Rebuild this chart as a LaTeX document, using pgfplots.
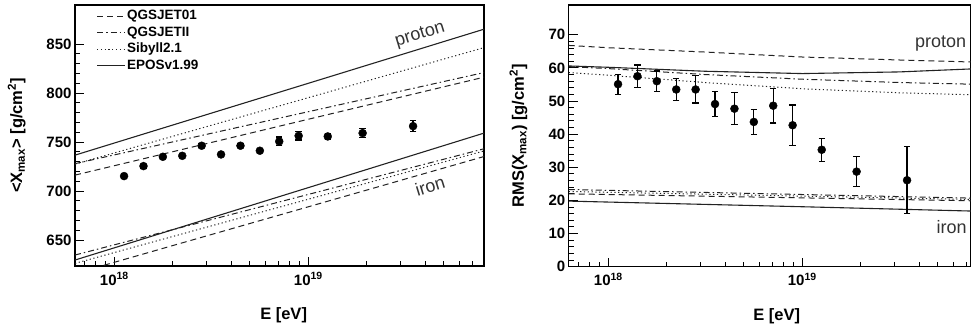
\documentclass[border=0pt]{standalone}
\usepackage{fontspec}
\setmainfont{Liberation Sans}
\usepackage{pgfplots}
\pgfplotsset{compat=1.18}
\definecolor{ln}{HTML}{222222}
\definecolor{lbl}{HTML}{333333}
\tikzset{
  q01/.style={ln, line width=1pt, dash pattern=on 6pt off 4pt},
  q2/.style={ln, line width=1pt, dash pattern=on 6pt off 3pt on 1.5pt off 3pt},
  sib/.style={ln, line width=1pt, dash pattern=on 1.2pt off 2.6pt},
  epos/.style={ln, line width=1.1pt, solid},
}
\begin{document}
\begin{tikzpicture}
\useasboundingbox (0pt,0pt) rectangle (971pt,331pt);
% ---------- left panel ----------
\begin{axis}[scale only axis, anchor=south west, at={(75pt,65pt)}, width=409pt, height=261pt,
  xmode=log, log basis x=10,
  tick pos=left, tick align=inside,
  major tick length=9pt, minor tick length=5pt,
  every tick/.append style={line width=1pt, black},
  axis line style={line width=1.2pt},
  xtick={1e18,1e19},
  xticklabels={\textbf{10\textsuperscript{18}},\textbf{10\textsuperscript{19}}},
  xticklabel style={yshift=-3pt},
  minor xtick={7e17,8e17,9e17,2e18,3e18,4e18,5e18,6e18,7e18,8e18,9e18,2e19,3e19,4e19,5e19,6e19,7e19,8e19},
  minor y tick num=4,
  /pgf/number format/assume math mode=true,
  tick label style={font=\fontsize{15}{15}\selectfont\bfseries},
  label style={font=\fontsize{16.5}{18}\selectfont\bfseries},
  xlabel={E [eV]},
  xlabel style={at={(axis description cs:0.51,-0.188)}, anchor=center},
  xmin=6.27e17, xmax=8.05e19, ymin=623.5, ymax=890,
  ytick={650,700,750,800,850},
  ylabel={\textless X\textsubscript{max}\textgreater\ [g/cm\textsuperscript{2}]},
  ylabel style={at={(axis description cs:-0.1425,0.5)}, anchor=center},
  legend style={at={(axis description cs:0.052,0.99)}, anchor=north west,
    draw=none, fill=none, font=\fontsize{13.5}{14}\selectfont\bfseries,
    row sep=0pt, inner sep=0pt,
    nodes={inner sep=1.5pt, text height=10.5pt, text depth=3pt}},
  legend cell align=left,
  legend image code/.code={\draw[#1] (0pt,0pt) -- (28pt,0pt);},
]
\addplot[q01] coordinates {(6.27e17,716.3) (8.05e19,816.3)};
\addlegendentry{QGSJET01}
\addplot[q2] coordinates {(6.27e17,728.0) (8.05e19,821.0)};
\addlegendentry{QGSJETII}
\addplot[sib] coordinates {(6.27e17,727.5) (8.05e19,846.5)};
\addlegendentry{Sibyll2.1}
\addplot[epos] coordinates {(6.27e17,736.7) (8.05e19,865.3)};
\addlegendentry{EPOSv1.99}
\addplot[forget plot, q01] coordinates {(6.27e17,615.8) (8.05e19,735.3)};
\addplot[forget plot, q2] coordinates {(6.27e17,634.7) (8.05e19,743.2)};
\addplot[forget plot, sib] coordinates {(6.27e17,626.2) (8.05e19,741.0)};
\addplot[forget plot, epos] coordinates {(6.27e17,629.6) (8.05e19,759.2)};
\addplot[forget plot, only marks, mark=*, mark size=4pt, black,
    error bars/.cd, y dir=both, y explicit,
    error bar style={line width=1.2pt, black},
    error mark options={rotate=90, mark size=3.2pt, line width=1.2pt, black}]
  table[x=x, y=y, y error=e] {
x y e
1.122e18 715.3 2
1.413e18 725.5 2
1.778e18 735.0 2
2.239e18 736.0 2
2.818e18 746.3 2
3.548e18 737.4 2
4.467e18 746.3 2
5.623e18 741.2 2
7.079e18 750.7 4.5
8.913e18 756.4 4.3
1.259e19 755.8 3
1.905e19 759.2 4.3
3.467e19 766.3 5.8
};
\node[lbl, rotate=17, font=\fontsize{18}{18}\selectfont] at (axis cs:3.77e19,859) {proton};
\node[lbl, rotate=17, font=\fontsize{18}{18}\selectfont] at (axis cs:4.24e19,705) {iron};
\end{axis}
% ---------- right panel ----------
\begin{axis}[scale only axis, anchor=south west, at={(568.7pt,64.3pt)}, width=402.3pt, height=261.7pt,
  xmode=log, log basis x=10,
  tick pos=left, tick align=inside,
  major tick length=9pt, minor tick length=5pt,
  every tick/.append style={line width=1pt, black},
  axis line style={line width=1.2pt},
  xtick={1e18,1e19},
  xticklabels={\textbf{10\textsuperscript{18}},\textbf{10\textsuperscript{19}}},
  xticklabel style={yshift=-3pt},
  minor xtick={7e17,8e17,9e17,2e18,3e18,4e18,5e18,6e18,7e18,8e18,9e18,2e19,3e19,4e19,5e19,6e19,7e19},
  minor y tick num=4,
  /pgf/number format/assume math mode=true,
  tick label style={font=\fontsize{15}{15}\selectfont\bfseries},
  label style={font=\fontsize{16.5}{18}\selectfont\bfseries},
  xlabel={E [eV]},
  xlabel style={at={(axis description cs:0.517,-0.188)}, anchor=center},
  xmin=6.25e17, xmax=7.41e19, ymin=0, ymax=79,
  ytick={0,10,20,30,40,50,60,70},
  ylabel={RMS(X\textsubscript{max}) [g/cm\textsuperscript{2}]},
  ylabel style={at={(axis description cs:-0.125,0.5)}, anchor=center},
]
\addplot[forget plot, q01] coordinates {(6.25e17,66.8) (1e18,66.1) (3.162e18,64.8) (1e19,63.3) (3.162e19,62.4) (7.41e19,61.8)};
\addplot[forget plot, q2] coordinates {(6.25e17,60.4) (1e18,59.8) (3.162e18,58.0) (1e19,56.6) (3.162e19,55.6) (7.41e19,55.1)};
\addplot[forget plot, sib] coordinates {(6.25e17,58.6) (1e18,57.8) (3.162e18,55.6) (1e19,53.7) (3.162e19,52.5) (7.41e19,51.9)};
\addplot[forget plot, epos] coordinates {(6.25e17,60.6) (1e18,60.2) (3.162e18,59.0) (1e19,58.3) (3.162e19,58.8) (7.41e19,59.7)};
\addplot[forget plot, q01] coordinates {(6.25e17,22.0) (7.41e19,19.9)};
\addplot[forget plot, q2] coordinates {(6.25e17,23.3) (7.41e19,20.7)};
\addplot[forget plot, sib] coordinates {(6.25e17,22.7) (7.41e19,20.3)};
\addplot[forget plot, epos] coordinates {(6.25e17,19.8) (1e19,18.1) (7.41e19,16.8)};
\addplot[forget plot, only marks, mark=*, mark size=4pt, black,
    error bars/.cd, y dir=both, y explicit,
    error bar style={line width=1.2pt, black},
    error mark options={rotate=90, mark size=3.2pt, line width=1.2pt, black}]
  table[x=x, y=y, y error=e] {
x y e
1.122e18 55.1 3.0
1.413e18 57.5 3.4
1.778e18 56.0 3.1
2.239e18 53.5 3.4
2.818e18 53.5 4.1
3.548e18 49.1 3.8
4.467e18 47.7 4.8
5.623e18 43.7 3.8
7.079e18 48.6 5.2
8.913e18 42.7 6.1
1.259e19 35.3 3.5
1.905e19 28.7 4.5
3.467e19 26.1 10.1
};
\node[lbl, font=\fontsize{18}{18}\selectfont] at (axis cs:5.16e19,67.5) {proton};
\node[lbl, font=\fontsize{18}{18}\selectfont] at (axis cs:5.89e19,11.9) {iron};
\end{axis}
\end{tikzpicture}
\end{document}
